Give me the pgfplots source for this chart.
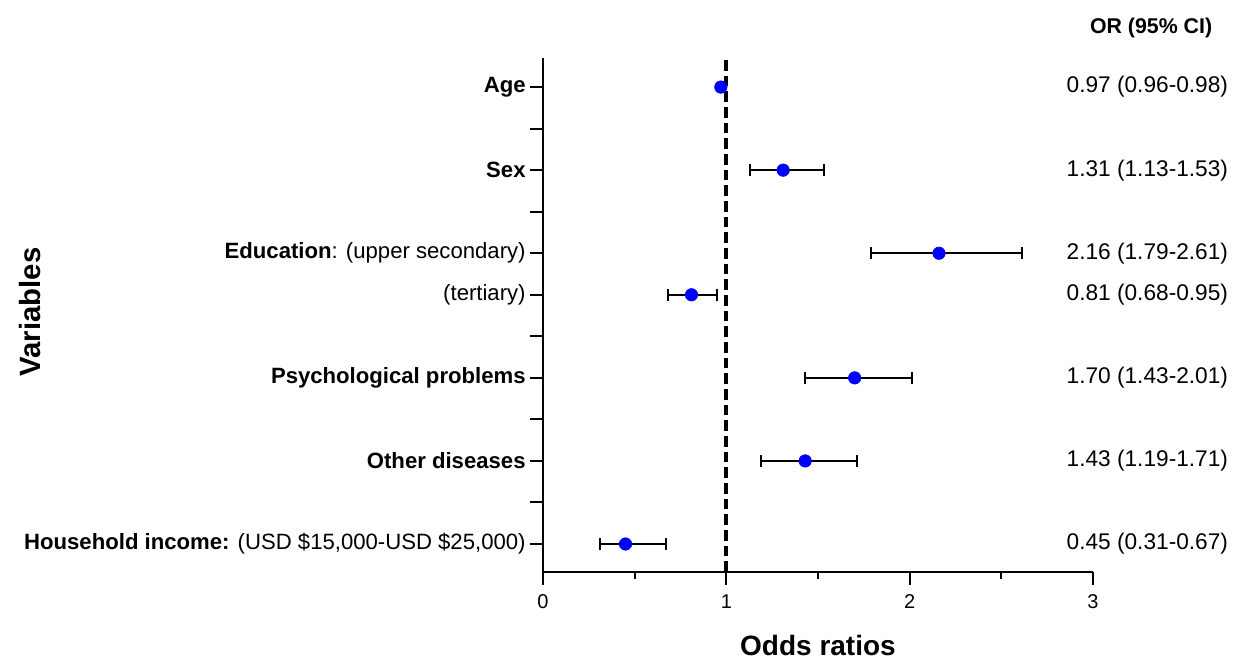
\documentclass[border=0pt]{standalone}
\usepackage{pgfplots}
\usepackage{pgfplotstable}
\pgfplotsset{compat=1.18}
\usepackage{fontspec}
\setmainfont{Liberation Sans}
\definecolor{markblue}{RGB}{0,0,255}
\pgfplotstableread{
pos or ep em
12 0.97 0.01 0.01
10 1.31 0.22 0.18
8  2.16 0.45 0.37
7  0.81 0.14 0.13
5  1.70 0.31 0.27
3  1.43 0.28 0.24
1  0.45 0.22 0.14
}\ordata
\begin{document}
\begin{tikzpicture}
\path[use as bounding box] (-407.25pt,-67.5pt) rectangle (520.5pt,429pt);
\begin{axis}[
 at={(0pt,0pt)}, anchor=south west,
 width=412.5pt, height=385.5pt, scale only axis,
 xmin=0, xmax=3, ymin=0.326, ymax=12.7,
 axis x line*=bottom, axis y line*=left,
 axis line style={line width=1.6pt,-},
 xtick={0,1,2,3}, minor xtick={0.5,1.5,2.5},
 ytick={1,...,12},
 yticklabels={{\textbf{Household income:} (USD \$15,000-USD \$25,000)},{},{\textbf{Other diseases}},{},{\textbf{Psychological problems}},{},{(tertiary)},{\textbf{Education}: (upper secondary)},{},{\textbf{Sex}},{},{\textbf{Age}}},
 tick align=outside,
 major tick length=9.5pt, minor tick length=5pt,
 every tick/.style={black, line width=1.5pt},
 xticklabel style={font=\fontsize{15}{17}\selectfont, yshift=-4pt},
 yticklabel style={font=\fontsize{16.6}{19}\selectfont},
 /pgf/number format/assume math mode=true,
 clip=false,
]
\addplot[draw=none, mark=none, forget plot,
  error bars/.cd, x dir=both, x explicit,
  error bar style={black, line width=1.5pt},
  error mark options={black, rotate=90, mark size=4.5pt, line width=1.5pt}]
  table[x=or, y=pos, x error plus=ep, x error minus=em] {\ordata};
\addplot[only marks, mark=*, mark size=4.7pt, mark options={fill=markblue, draw=markblue}]
  table[x=or, y=pos] {\ordata};
\addplot[black, line width=2.8pt, dash pattern=on 8pt off 3.75pt] coordinates {(1,0.326) (1,12.7)};
\node[anchor=east, font=\fontsize{17}{19}\selectfont] at (axis cs:3.762,12) {0.97 (0.96-0.98)};
\node[anchor=east, font=\fontsize{17}{19}\selectfont] at (axis cs:3.762,10) {1.31 (1.13-1.53)};
\node[anchor=east, font=\fontsize{17}{19}\selectfont] at (axis cs:3.762,8) {2.16 (1.79-2.61)};
\node[anchor=east, font=\fontsize{17}{19}\selectfont] at (axis cs:3.762,7) {0.81 (0.68-0.95)};
\node[anchor=east, font=\fontsize{17}{19}\selectfont] at (axis cs:3.762,5) {1.70 (1.43-2.01)};
\node[anchor=east, font=\fontsize{17}{19}\selectfont] at (axis cs:3.762,3) {1.43 (1.19-1.71)};
\node[anchor=east, font=\fontsize{17}{19}\selectfont] at (axis cs:3.762,1) {0.45 (0.31-0.67)};
\node[font=\bfseries\fontsize{16}{19}\selectfont] at (axis cs:3.317,13.42) {OR (95\% CI)};
\node[font=\bfseries\fontsize{21}{24}\selectfont] at (axis description cs:0.5,-0.143) {Odds ratios};
\node[rotate=90, font=\bfseries\fontsize{22}{24}\selectfont] at (axis description cs:-0.9327,0.506) {Variables};
\end{axis}
\end{tikzpicture}
\end{document}
